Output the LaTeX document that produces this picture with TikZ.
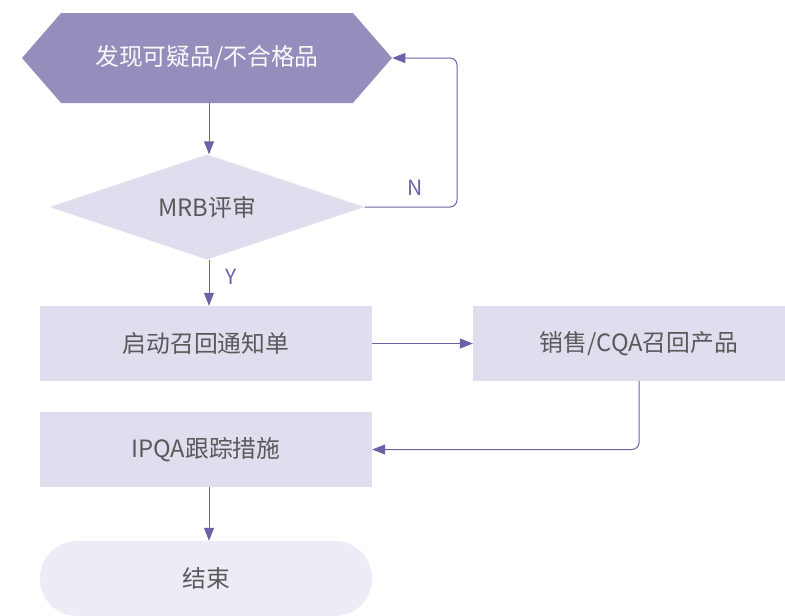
\documentclass[tikz,border=0pt]{standalone}
\usepackage{fontspec}
\setmainfont{Noto Sans CJK SC}
\usetikzlibrary{arrows.meta,shapes.geometric,shapes.symbols}

\definecolor{hexfill}{HTML}{978DBD}
\definecolor{boxfill}{HTML}{E0DEEE}
\definecolor{endfill}{HTML}{EDEBF5}
\definecolor{linecol}{HTML}{6A62A6}
\definecolor{txtcol}{HTML}{595959}

\tikzset{
    every node/.style={font=\fontsize{23.8}{28}\selectfont, text=txtcol, inner sep=0pt},
    startbox/.style={shape=signal, signal to=west and east, signal pointer angle=98,
        fill=hexfill, text=white!94!hexfill, minimum width=370pt, minimum height=90pt},
    decbox/.style={diamond, aspect=3, fill=boxfill, minimum width=315pt, minimum height=105pt},
    procbox/.style={rectangle, fill=boxfill, minimum width=332pt, minimum height=75pt},
    endbox/.style={rectangle, rounded corners=37pt, fill=endfill, minimum width=332pt, minimum height=75pt},
    link/.style={draw=linecol, line width=1pt, -{Triangle[length=13pt,width=10pt]}},
    lbl/.style={text=linecol, font=\fontsize{21}{25}\selectfont}
}

\begin{document}
\begin{tikzpicture}[x=1pt,y=-1pt]
\useasboundingbox (0,0) rectangle (785,616);
\clip (0,0) rectangle (785,616);

\node[startbox] (find) at (207,58) {\raisebox{-2pt}{发现可疑品/不合格品}};
\node[decbox] (mrb) at (207,207) {\raisebox{-2pt}{MRB评审}};
\node[procbox] (notice) at (206,343.5) {启动召回通知单};
\node[procbox] (recall) at (639,343.5) {销售/CQA召回产品};
\node[procbox] (ipqa) at (206,449.5) {IPQA跟踪措施};
\node[endbox] (done) at (206,578.5) {结束};

\coordinate (nturn) at (457,58);

\draw[link] (find.south -| 209,0) -- (mrb.north -| 209,0);
\draw[link, rounded corners=7pt] (mrb.east) -| (nturn) -- (find.east);
\node[lbl] (nlab) at (415,188) {N};
\draw[link] (mrb.south -| 209,0) -- (notice.north -| 209,0);
\node[lbl] (ylab) at (231,277) {Y};
\draw[link] (notice.east) -- (recall.west);
\draw[link, rounded corners=7pt] (recall.south) |- (ipqa.east);
\draw[link] (ipqa.south -| 209,0) -- (done.north -| 209,0);

\end{tikzpicture}
\end{document}
